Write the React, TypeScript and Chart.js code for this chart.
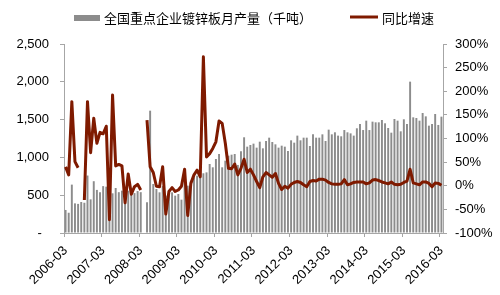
import React, { useEffect, useRef } from "react";
import { Chart, registerables } from "chart.js";

Chart.register(...registerables);

// Monthly categories 2006-03 .. 2016-03
const startYear = 2006;
const startMonth = 3;
const monthCount = 121;
const categories: string[] = [];
for (let i = 0; i < monthCount; i++) {
  const m = startMonth - 1 + i;
  const y = startYear + Math.floor(m / 12);
  const mm = (m % 12) + 1;
  categories.push(`${y}-${mm < 10 ? "0" + mm : mm}`);
}

const productionLabel = "全国重点企业镀锌板月产量（千吨）";
const yoyLabel = "同比增速";

// 千吨
const production: (number | null)[] = [
  305, 268, 640, 392, 385, 410, 400, 760, 445, 685,
  570, 540, 620, 613, 600, 525, 595, 540, 560, 525,
  560, 540, 528, 555, 540, null, 406, 1618, 648, 582,
  538, 620, 494, 538, 538, 494, 516, 441, 690, 626,
  692, 736, 758, 780, 790, 802, 913, 869, 979, 1045,
  869, 957, 1023, 1036, 1045, 900, 1080, 1266, 1142, 1164,
  1182, 1129, 1208, 1120, 1217, 1261, 1204, 1173, 1129, 1155,
  1142, 1085, 1226, 1195, 1288, 1226, 1261, 1261, 1151, 1305,
  1261, 1261, 1305, 1217, 1367, 1305, 1332, 1288, 1279, 1362,
  1332, 1318, 1288, 1385, 1442, 1362, 1486, 1362, 1473, 1464,
  1464, 1495, 1451, 1389, 1327, 1508, 1486, 1345, 1504, 1442,
  2002, 1530, 1521, 1486, 1587, 1543, 1420, 1442, 1574, 1429, 1539,
];

// %
const yoy: (number | null)[] = [
  40, 23, 178, 51, 38, null, -30, 178, 70, 143,
  90, 113, 110, 126, -72, 192, 42, 45, 42, -36,
  25, -18, -2, 3, -9, null, 139, 40, 28, -1,
  -2, 40, -60, -12, -4, -12, -9, -1, 35, -63,
  5, 23, 33, 19, 273, 61, 68, 79, 93, 137,
  132, 90, 37, 36, 46, 23, 37, 56, 28, 35,
  23, 9, -4, 19, 28, 23, 18, 26, 5, -8,
  -1, -5, 3, 7, 9, 7, 2, -2, 9, 11,
  10, 14, 14, 12, 7, 4, 3, 3, 4, 13,
  2, 4, 7, 8, 8, 8, 4, 6, 12, 13,
  11, 8, 6, 4, 8, 3, 2, 3, 7, 10,
  35, 6, 4, 2, 8, 8, 5, -2, 6, 5, 1,
];

const leftTicks = { min: 0, max: 2500, step: 500 };
const rightTicks = { min: -100, max: 300, step: 50 };

const BAR_COLOR = "#8c8c8c";
const LINE_COLOR = "#7f1a00";
const AXIS_COLOR = "#a6a6a6";
const TEXT_COLOR = "#000000";
const SANS = '"Liberation Sans", Arial, sans-serif';
const CJK = '"Noto Sans CJK SC", sans-serif';

const legendPlugin = {
  id: "customLegend",
  afterDraw(chart: any) {
    const ctx = chart.ctx;
    ctx.save();
    const cy = 18;
    // bar item
    ctx.fillStyle = BAR_COLOR;
    ctx.fillRect(74, cy - 3, 26, 6);
    ctx.font = `13px ${CJK}`;
    ctx.fillStyle = TEXT_COLOR;
    ctx.textBaseline = "middle";
    ctx.textAlign = "left";
    ctx.fillText(productionLabel, 104, cy);
    // line item
    ctx.strokeStyle = LINE_COLOR;
    ctx.lineWidth = 3;
    ctx.beginPath();
    ctx.moveTo(350, cy - 1);
    ctx.lineTo(378, cy - 1);
    ctx.stroke();
    ctx.fillText(yoyLabel, 382, cy);
    ctx.restore();
  },
};

export default function App() {
  const ref = useRef<HTMLCanvasElement | null>(null);

  useEffect(() => {
    if (!ref.current) return;
    const isMarch = (i: number) => categories[i] && categories[i].endsWith("-03");
    const chart = new Chart(ref.current, {
      type: "bar",
      data: {
        labels: categories,
        datasets: [
          {
            type: "line",
            label: yoyLabel,
            data: yoy,
            yAxisID: "y2",
            borderColor: LINE_COLOR,
            backgroundColor: LINE_COLOR,
            borderWidth: 3,
            pointRadius: 0,
            tension: 0,
            spanGaps: false,
            order: 0,
            borderJoinStyle: "round",
          } as any,
          {
            type: "bar",
            label: productionLabel,
            data: production,
            yAxisID: "y",
            backgroundColor: BAR_COLOR,
            borderWidth: 0,
            categoryPercentage: 1,
            barPercentage: 0.62,
            order: 1,
          } as any,
        ],
      },
      options: {
        responsive: false,
        animation: false,
        layout: { padding: { top: 44, left: 0, right: 0, bottom: 0 } },
        plugins: {
          legend: { display: false },
          tooltip: { enabled: false },
        },
        scales: {
          x: {
            type: "category",
            offset: true,
            grid: {
              offset: true,
              drawOnChartArea: false,
              drawTicks: true,
              tickLength: 4,
              color: (c: any) => (c.tick && isMarch(c.index) ? AXIS_COLOR : "rgba(0,0,0,0)"),
              tickColor: (c: any) => (c.tick && isMarch(c.index) ? AXIS_COLOR : "rgba(0,0,0,0)"),
            },
            border: { display: true, color: AXIS_COLOR },
            ticks: {
              autoSkip: false,
              minRotation: 45,
              maxRotation: 45,
              padding: 6,
              color: TEXT_COLOR,
              font: { family: SANS, size: 13 },
              callback: (_v: any, i: number) => (isMarch(i) ? categories[i] : ""),
            },
            afterFit: (s: any) => {
              s.height = 62;
            },
          },
          y: {
            position: "left",
            min: leftTicks.min,
            max: leftTicks.max,
            grid: {
              drawOnChartArea: false,
              drawTicks: true,
              tickLength: 4,
              color: AXIS_COLOR,
            },
            border: { display: true, color: AXIS_COLOR },
            ticks: {
              stepSize: leftTicks.step,
              padding: 11,
              color: TEXT_COLOR,
              font: { family: SANS, size: 13 },
              callback: (v: any) => (v === 0 ? "-  " : Number(v).toLocaleString("en-US")),
            },
            afterFit: (s: any) => {
              s.width = 64;
            },
          },
          y2: {
            position: "right",
            min: rightTicks.min,
            max: rightTicks.max,
            grid: {
              drawOnChartArea: false,
              drawTicks: true,
              tickLength: 4,
              color: AXIS_COLOR,
            },
            border: { display: true, color: AXIS_COLOR },
            ticks: {
              stepSize: rightTicks.step,
              padding: 8,
              color: TEXT_COLOR,
              font: { family: SANS, size: 13 },
              callback: (v: any) => `${v}%`,
            },
            afterFit: (s: any) => {
              s.width = 57;
            },
          },
        },
      } as any,
      plugins: [legendPlugin],
    });
    return () => chart.destroy();
  }, []);

  return (
    <div style={{ position: "fixed", left: 0, top: 0, width: 500, height: 295, background: "#fff" }}>
      <canvas ref={ref} width={500} height={295} />
    </div>
  );
}
